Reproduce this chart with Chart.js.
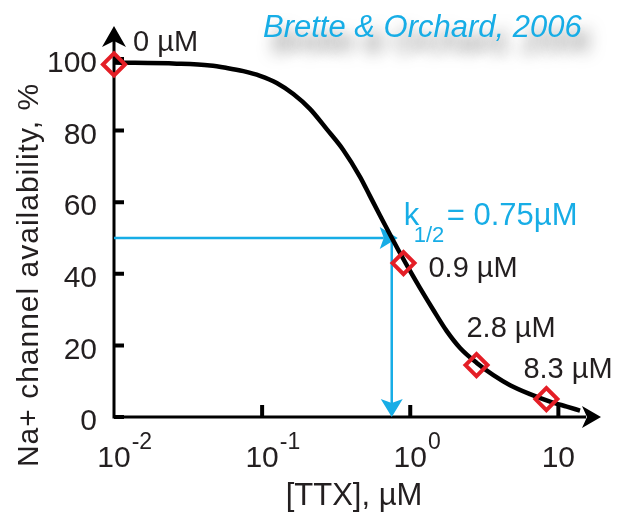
<!DOCTYPE html>
<html>
<head>
<meta charset="utf-8">
<title>TTX dose response</title>
<script src="https://cdn.jsdelivr.net/npm/chart.js@4/dist/chart.umd.min.js"></script>
<style>
  html, body { margin: 0; padding: 0; background: #fff; }
  #wrap { width: 630px; height: 521px; }
</style>
</head>
<body>
<div id="wrap"><canvas id="chart" width="630" height="521"></canvas></div>
<script>
// Fitted availability curve: [TTX] (µM) and channel availability (%)
const curveTTX   = [0.01, 0.0265, 0.0445, 0.0577, 0.0747, 0.0968, 0.1255, 0.1625, 0.211, 0.273, 0.353, 0.458, 0.535, 0.625, 0.73, 0.853, 0.997, 1.165, 1.432, 1.764, 2.169, 2.813, 3.64, 4.72, 6.44, 8.79, 11.4, 14.0];
const curveAvail = [99.0, 98.7, 98.2, 97.5, 96.6, 95.3, 93.3, 90.2, 86.0, 80.4, 74.6, 67.1, 61.7, 56.3, 51.0, 45.8, 40.8, 36.0, 29.9, 24.0, 19.3, 15.1, 11.7, 8.9, 6.4, 4.3, 2.9, 1.8];

// Measured doses (the 0 µM control sits at the left end of the log axis)
const doseTTX    = [0.01, 0.9, 2.8, 8.3];
const doseAvail  = [98.5, 43, 14.5, 5];
const doseLabels = ['0 µM', '0.9 µM', '2.8 µM', '8.3 µM'];

// Half-availability point
const kHalf = 0.75;
const halfLevel = 50;
const kHalfText = ['k', '1/2', '= 0.75µM'];

// Axes
const yTicks = [0, 20, 40, 60, 80, 100];
const xTicks = [0.01, 0.1, 1, 10];
const xTickBase = ['10', '10', '10', '10'];
const xTickExp  = ['-2', '-1', '0', ''];
const xTitle = '[TTX], µM';
const yTitle = 'Na+ channel availability, %';
const citation = 'Brette & Orchard, 2006';

const FONT = '"Liberation Sans", Arial, Helvetica, sans-serif';
const INK = '#231f20';
const RED = '#e41e26';
const CYAN = '#17ade6';

// label placement relative to each diamond (px)
const doseLabelShift = [[19, -13], [25, 14], [-10, -28], [-23, -21]];

function arrowHead(ctx, tx, ty, ux, uy, len, half, notch, color) {
  const bx = tx - ux * len, by = ty - uy * len;
  const px = -uy, py = ux;
  ctx.beginPath();
  ctx.moveTo(tx, ty);
  ctx.lineTo(bx + px * half, by + py * half);
  ctx.lineTo(tx - ux * (len - notch), ty - uy * (len - notch));
  ctx.lineTo(bx - px * half, by - py * half);
  ctx.closePath();
  ctx.fillStyle = color;
  ctx.fill();
}

const axesAndGuides = {
  id: 'axesAndGuides',
  beforeDatasetsDraw(chart) {
    const { ctx, chartArea: a, scales: { x, y } } = chart;
    ctx.save();
    // axis lines with arrow heads
    ctx.strokeStyle = '#000';
    ctx.lineWidth = 3;
    ctx.beginPath();
    ctx.moveTo(a.left, a.bottom + 1.5);
    ctx.lineTo(a.left, a.top + 16);
    ctx.moveTo(a.left - 1.5, a.bottom);
    ctx.lineTo(a.right - 14, a.bottom);
    ctx.stroke();
    arrowHead(ctx, a.left, a.top + 1, 0, -1, 21, 12, 6, '#000');
    arrowHead(ctx, a.right + 1, a.bottom, 1, 0, 19, 11, 5, '#000');

    // inward tick marks
    ctx.lineWidth = 4;
    ctx.beginPath();
    yTicks.forEach(v => {
      const py = y.getPixelForValue(v);
      ctx.moveTo(a.left, py);
      ctx.lineTo(a.left + 10, py);
    });
    xTicks.slice(1).forEach(v => {
      const px = x.getPixelForValue(v);
      ctx.moveTo(px, a.bottom);
      ctx.lineTo(px, a.bottom - 12);
    });
    ctx.stroke();

    // x tick labels as powers of ten
    ctx.fillStyle = INK;
    ctx.textBaseline = 'alphabetic';
    xTicks.forEach((v, i) => {
      const px = x.getPixelForValue(v);
      ctx.font = '30px ' + FONT;
      const w = ctx.measureText(xTickBase[i]).width;
      ctx.textAlign = 'left';
      ctx.fillText(xTickBase[i], px - w / 2, a.bottom + 50);
      if (xTickExp[i]) {
        ctx.font = '23px ' + FONT;
        ctx.fillText(xTickExp[i], px + w / 2 + 1, a.bottom + 32);
      }
    });

    // half-availability guides
    const xk = x.getPixelForValue(kHalf);
    const yk = y.getPixelForValue(halfLevel);
    ctx.strokeStyle = CYAN;
    ctx.lineWidth = 2.5;
    ctx.beginPath();
    ctx.moveTo(a.left, yk);
    ctx.lineTo(xk + 6 - 14, yk);
    ctx.moveTo(xk, yk + 3);
    ctx.lineTo(xk, a.bottom - 14);
    ctx.stroke();
    arrowHead(ctx, xk + 6, yk, 1, 0, 18, 11, 4, CYAN);
    arrowHead(ctx, xk, a.bottom, 0, 1, 18, 11, 4, CYAN);
    ctx.restore();
  },
  afterDraw(chart) {
    const { ctx, chartArea: a, scales: { x, y } } = chart;
    ctx.save();
    ctx.textBaseline = 'alphabetic';

    // dose labels next to the diamonds
    ctx.fillStyle = INK;
    ctx.font = '29px ' + FONT;
    ctx.textAlign = 'left';
    doseTTX.forEach((v, i) => {
      const px = x.getPixelForValue(v);
      const py = y.getPixelForValue(doseAvail[i]);
      ctx.fillText(doseLabels[i], px + doseLabelShift[i][0], py + doseLabelShift[i][1]);
    });

    // k1/2 annotation
    const xk = x.getPixelForValue(kHalf);
    const yk = y.getPixelForValue(halfLevel);
    ctx.fillStyle = CYAN;
    ctx.font = '31px ' + FONT;
    const kx = xk + 12, ky = yk - 13;
    ctx.fillText(kHalfText[0], kx, ky);
    ctx.font = '22px ' + FONT;
    ctx.fillText(kHalfText[1], kx + 10, ky + 17);
    ctx.font = '31px ' + FONT;
    ctx.fillText(kHalfText[2], kx + 43, ky);

    // axis titles
    ctx.fillStyle = INK;
    ctx.font = '31px ' + FONT;
    ctx.textAlign = 'center';
    ctx.fillText(xTitle, (a.left + a.right) / 2 - 3, a.bottom + 88);
    ctx.save();
    ctx.translate(38, a.bottom - 142);
    ctx.rotate(-Math.PI / 2);
    ctx.font = '30px ' + FONT;
    if ('letterSpacing' in ctx) ctx.letterSpacing = '1px';
    ctx.fillText(yTitle, 0, 0);
    ctx.restore();

    // citation with a soft drop shadow
    ctx.textAlign = 'left';
    ctx.font = 'italic 31px ' + FONT;
    ctx.shadowColor = 'rgba(40,40,40,0.6)';
    ctx.shadowBlur = 15;
    ctx.shadowOffsetX = 9;
    ctx.shadowOffsetY = 15;
    ctx.fillStyle = CYAN;
    ctx.fillText(citation, 263, 37);
    ctx.restore();
  }
};

new Chart(document.getElementById('chart'), {
  type: 'scatter',
  data: {
    datasets: [
      {
        label: 'doses',
        data: doseTTX.map((v, i) => ({ x: v, y: doseAvail[i] })),
        pointStyle: 'rectRot',
        pointRadius: 11,
        pointBorderWidth: 4,
        pointBorderColor: RED,
        pointBackgroundColor: 'rgba(0,0,0,0)',
        showLine: false,
        clip: false,
        order: 0
      },
      {
        label: 'fit',
        data: curveTTX.map((v, i) => ({ x: v, y: curveAvail[i] })),
        showLine: true,
        borderColor: '#000',
        borderWidth: 4.5,
        pointRadius: 0,
        cubicInterpolationMode: 'monotone',
        clip: false,
        order: 1
      }
    ]
  },
  options: {
    responsive: false,
    animation: false,
    devicePixelRatio: 1,
    events: [],
    layout: { padding: { left: 0, right: 30, top: 25, bottom: 0 } },
    plugins: { legend: { display: false }, tooltip: { enabled: false } },
    scales: {
      x: {
        type: 'logarithmic',
        min: 0.01,
        max: 19.1,
        grid: { display: false, drawTicks: false },
        border: { display: false },
        ticks: { display: false },
        afterBuildTicks(scale) { scale.ticks = xTicks.map(v => ({ value: v })); },
        afterFit(scale) {
          scale.height = 104;
          scale.paddingLeft = 0; scale.paddingRight = 0;
        }
      },
      y: {
        type: 'linear',
        min: 0,
        max: 109.5,
        grid: { display: false, drawTicks: false },
        border: { display: false },
        ticks: {
          color: INK,
          font: { family: FONT, size: 30 },
          padding: 17,
          labelOffset: 5
        },
        afterBuildTicks(scale) { scale.ticks = yTicks.map(v => ({ value: v })); },
        afterFit(scale) {
          scale.width = 114;
          scale.paddingTop = 0; scale.paddingBottom = 0;
        }
      }
    }
  },
  plugins: [axesAndGuides]
});
</script>
</body>
</html>
